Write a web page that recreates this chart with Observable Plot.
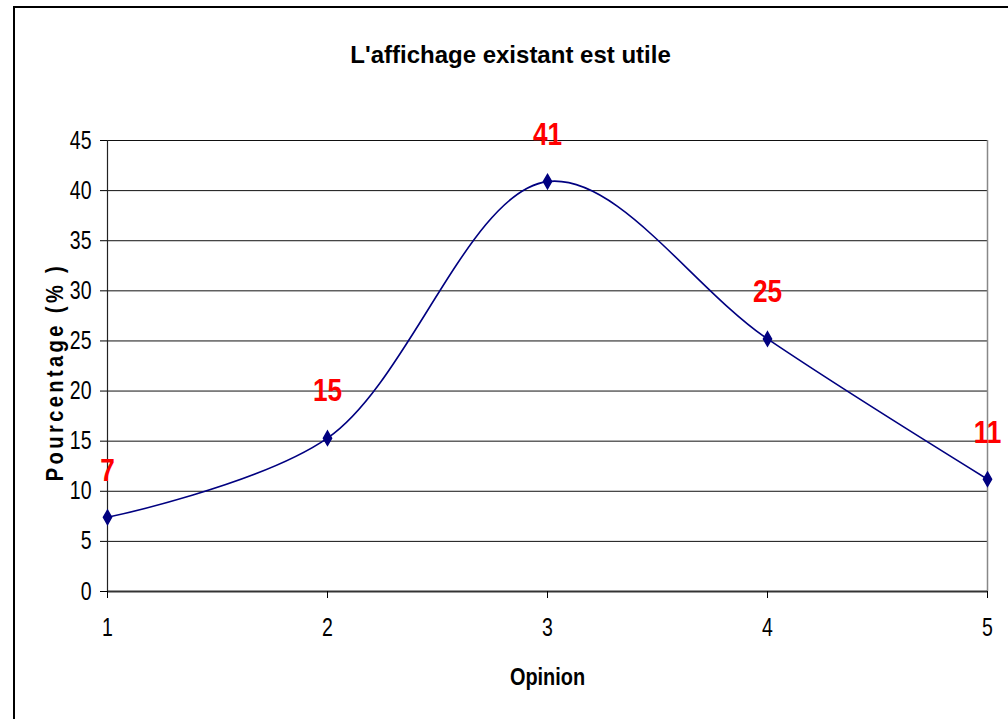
<!DOCTYPE html>
<html><head><meta charset="utf-8">
<script src="https://cdn.jsdelivr.net/npm/d3@7"></script>
<script src="https://cdn.jsdelivr.net/npm/@observablehq/plot@0.6"></script>
<style>
body{margin:0;background:#fff;}
#wrap{position:relative;width:1008px;height:719px;overflow:hidden;background:#fff;}
#frame{position:absolute;left:13px;top:6px;width:1100px;height:800px;border:2px solid #000;box-sizing:border-box;pointer-events:none;}
#chart{position:absolute;left:0;top:0;}
</style></head>
<body>
<div id="wrap"><div id="chart"></div><div id="frame"></div></div>
<script>
const title = "L'affichage existant est utile";
const xLabel = "Opinion";
const yLabel = "Pourcentage (% )";
const opinions = [1, 2, 3, 4, 5];
const percentages = [7.4, 15.3, 40.9, 25.2, 11.2];
const valueLabels = ["7", "15", "41", "25", "11"];
const yTicks = [0, 5, 10, 15, 20, 25, 30, 35, 40, 45];
const xTicks = [1, 2, 3, 4, 5];

const data = opinions.map((o, i) => ({opinion: o, pct: percentages[i], label: valueLabels[i]}));
const FONT = "Arial, 'Liberation Sans', sans-serif";

const plot = Plot.plot({
  width: 1008,
  height: 719,
  marginLeft: 107,
  marginRight: 21,
  marginTop: 140,
  marginBottom: 128,
  style: {fontFamily: FONT, fontSize: "25px", background: "transparent", color: "#000"},
  x: {domain: [1, 5]},
  y: {domain: [0, 45]},
  marks: [
    Plot.ruleY(yTicks.filter(d => d > 0), {stroke: "#111", strokeWidth: 1}),
    Plot.ruleX([5], {stroke: "#888", strokeWidth: 1.5}),
    Plot.ruleY([0], {stroke: "#333", strokeWidth: 2}),
    Plot.ruleX([1], {stroke: "#222", strokeWidth: 1.2}),
    Plot.axisY({ticks: yTicks, tickSize: 7, tickPadding: 9, fontSize: 25, label: null, tickFormat: d => String(d)}),
    Plot.axisX({ticks: xTicks, tickSize: 7, tickPadding: 20, fontSize: 25, label: null, tickFormat: d => String(d)}),
    Plot.line(data, {x: "opinion", y: "pct", curve: "catmull-rom", stroke: "#000080", strokeWidth: 1.6}),
    Plot.dot(data, {x: "opinion", y: "pct", symbol: "diamond", r: 4.3, fill: "#000080", stroke: "#000080"}),
    Plot.text(data, {x: "opinion", y: "pct", text: "label", dy: -47, fill: "#ff0000", fontWeight: "bold", fontSize: 32}),
    Plot.text([title], {frameAnchor: "top", lineAnchor: "middle", textAnchor: "middle", dy: -85, dx: -37, fontWeight: "bold", fontSize: 24}),
    Plot.text([xLabel], {frameAnchor: "bottom", lineAnchor: "middle", textAnchor: "middle", dy: 86, fontWeight: "bold", fontSize: 24}),
    Plot.text([yLabel], {frameAnchor: "left", lineAnchor: "middle", textAnchor: "middle", dx: -52, dy: 6, rotate: -90, fontWeight: "bold", fontSize: 24})
  ]
});
document.getElementById("chart").appendChild(plot);

function squeeze(t, s) {
  const b = t.getBBox();
  const anchor = getComputedStyle(t).textAnchor;
  const ax = anchor === "end" ? b.x + b.width : anchor === "middle" ? b.x + b.width / 2 : b.x;
  const prev = t.getAttribute("transform") || "";
  t.setAttribute("transform", `${prev} translate(${ax},0) scale(${s},1) translate(${-ax},0)`);
}
plot.querySelectorAll("text").forEach(t => {
  const txt = t.textContent;
  const fill = getComputedStyle(t).fill;
  if (txt === yLabel) {
    t.style.letterSpacing = "4px";
    squeeze(t, 0.84);
  } else if (txt === xLabel) {
    squeeze(t, 0.83);
  } else if (txt === title) {
    // keep
  } else if (fill === "rgb(255, 0, 0)") {
    squeeze(t, 0.82);
  } else {
    t.style.fontSize = "25px";
    squeeze(t, 0.78);
  }
});
</script>
</body></html>
